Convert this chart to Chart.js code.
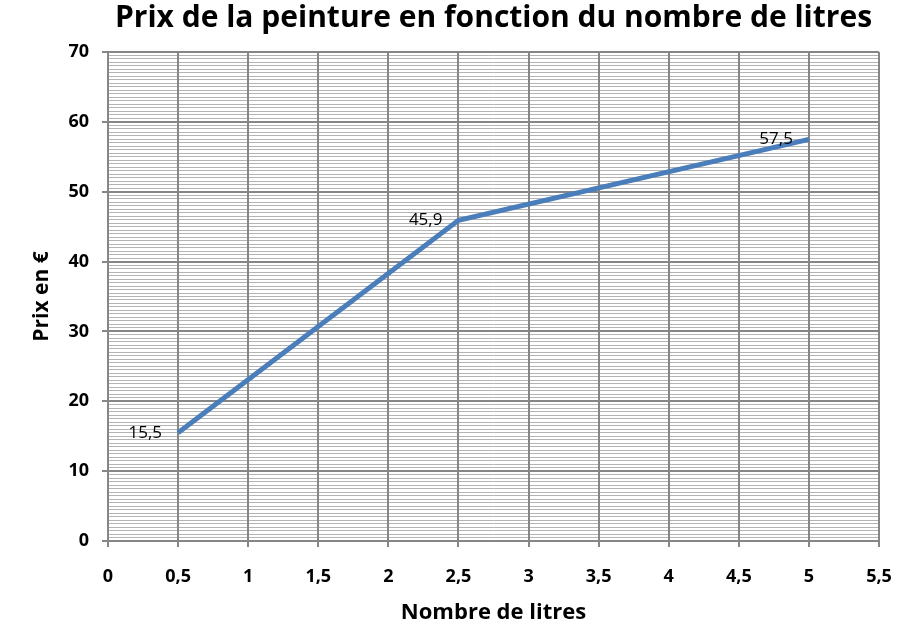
<!DOCTYPE html>
<html>
<head>
<meta charset="utf-8">
<script src="https://cdn.jsdelivr.net/npm/chart.js@4"></script>
<style>
  html, body { margin: 0; padding: 0; background: #fff; }
  #wrap { width: 924px; height: 634px; }
</style>
</head>
<body>
<div id="wrap"><canvas id="myChart"></canvas></div>
<script>
// donnees
const litres = [0.5, 2.5, 5];
const prix = [15.5, 45.9, 57.5];
const labelsPoints = ['15,5', '45,9', '57,5'];

const titre = 'Prix de la peinture en fonction du nombre de litres';
const titreX = 'Nombre de litres';
const titreY = 'Prix en €';

const fontFamily = '"Open Sans", "Liberation Sans", sans-serif';
const virgule = v => String(v).replace('.', ',');

// etiquettes a gauche des points, comme dans Excel
const dataLabels = {
  id: 'dataLabels',
  afterDatasetsDraw(chart) {
    const ctx = chart.ctx;
    const meta = chart.getDatasetMeta(0);
    ctx.save();
    ctx.font = '17px ' + fontFamily;
    ctx.fillStyle = '#000';
    ctx.textAlign = 'right';
    ctx.textBaseline = 'middle';
    meta.data.forEach((pt, i) => {
      ctx.fillText(labelsPoints[i], pt.x - 16, pt.y);
    });
    ctx.restore();
  }
};

const canvas = document.getElementById('myChart');

new Chart(canvas, {
  type: 'scatter',
  data: {
    datasets: [{
      data: litres.map((x, i) => ({ x: x, y: prix[i] })),
      showLine: true,
      borderColor: '#4a7ebb',
      backgroundColor: '#4a7ebb',
      borderWidth: 5,
      pointRadius: 0,
      borderCapStyle: 'butt',
      borderJoinStyle: 'miter'
    }]
  },
  options: {
    responsive: true,
    maintainAspectRatio: false,
    animation: false,
    layout: { padding: { left: 0, right: 45, top: 0, bottom: 0 } },
    plugins: {
      legend: { display: false },
      tooltip: { enabled: false },
      title: {
        display: true,
        fullSize: false,
        text: titre,
        color: '#000',
        font: { family: fontFamily, size: 30, weight: 'bold', lineHeight: 1.2 },
        padding: { top: 0, bottom: 16 }
      }
    },
    scales: {
      x: {
        type: 'linear',
        min: 0,
        max: 5.5,
        afterFit: s => { s.height = 93; },
        ticks: {
          stepSize: 0.5,
          padding: 19,
          color: '#000',
          font: { family: fontFamily, size: 18, weight: 'bold' },
          callback: v => virgule(v)
        },
        grid: { color: '#868686', lineWidth: 2, tickLength: 6 },
        border: { color: '#868686', width: 2 },
        title: {
          display: true,
          text: titreX,
          color: '#000',
          font: { family: fontFamily, size: 22, weight: 'bold' },
          padding: { top: 0, bottom: 8 }
        }
      },
      y: {
        type: 'linear',
        min: 0,
        max: 70,
        afterFit: s => { s.width = 108; },
        ticks: {
          stepSize: 10,
          padding: 13,
          color: '#000',
          font: { family: fontFamily, size: 18, weight: 'bold' }
        },
        grid: { color: '#868686', lineWidth: 2, tickLength: 6 },
        border: { color: '#868686', width: 2 },
        title: {
          display: true,
          text: titreY,
          color: '#000',
          font: { family: fontFamily, size: 21, weight: 'bold' },
          padding: { top: 29, bottom: 0 }
        }
      },
      yMineur: {
        type: 'linear',
        position: 'right',
        min: 0,
        max: 70,
        afterFit: s => { s.width = 0; },
        ticks: { display: false, stepSize: 0.5, maxTicksLimit: 200 },
        grid: { color: '#b4b4b4', lineWidth: 1, drawTicks: false, z: -2 },
        border: { display: false }
      }
    }
  },
  plugins: [dataLabels]
});
</script>
</body>
</html>
